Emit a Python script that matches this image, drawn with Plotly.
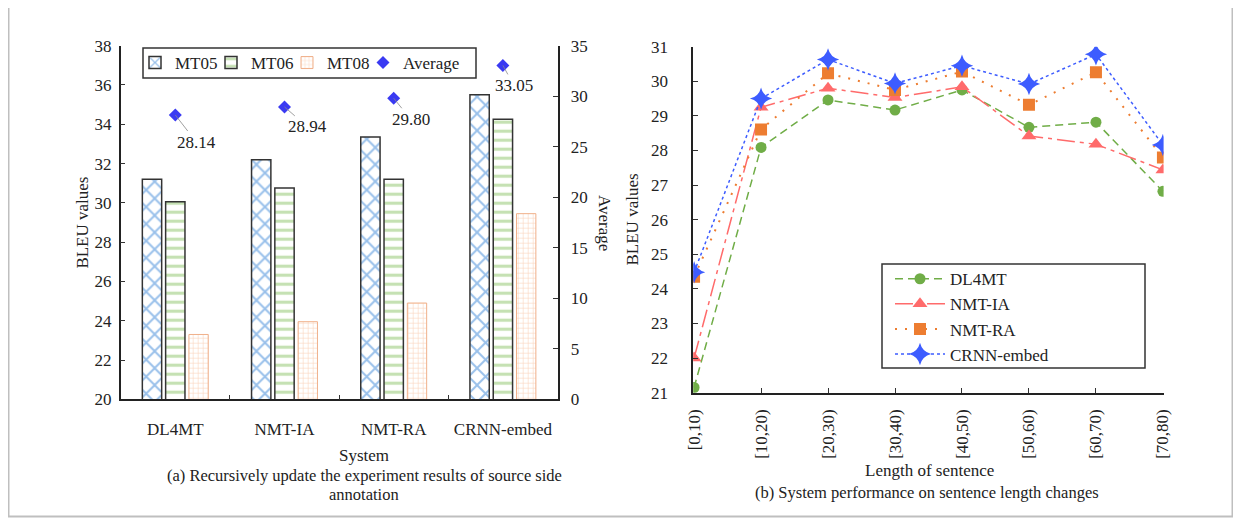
import plotly.graph_objects as go

W, H = 1241, 523
# the page body adds an 8px margin around the figure; positions below are
# given in screen pixels and shifted back by that margin
OX, OY = 8, 8
FONT = "Liberation Serif, Times New Roman, serif"
TXT = "#222222"

# ---------------- data ----------------
systems = ["DL4MT", "NMT-IA", "NMT-RA", "CRNN-embed"]
mt05 = [31.2, 32.2, 33.35, 35.5]
mt06 = [30.05, 30.75, 31.2, 34.25]
mt08 = [23.3, 23.95, 24.9, 29.45]
average = [28.14, 28.94, 29.80, 33.05]

lengths = ["[0,10)", "[10,20)", "[20,30)", "[30,40)", "[40,50)", "[50,60)", "[60,70)", "[70,80)"]
dl4mt = [21.15, 28.09, 29.46, 29.17, 29.75, 28.67, 28.82, 26.82]
nmt_ia = [22.0, 29.25, 29.8, 29.53, 29.84, 28.42, 28.18, 27.44]
nmt_ra = [24.35, 28.61, 30.23, 29.75, 30.28, 29.32, 30.26, 27.8]
crnn = [24.48, 29.5, 30.63, 29.94, 30.45, 29.92, 30.78, 28.16]

# label offsets (px) for the average labels
avg_dx = [21, 23, 17, 11]
avg_dy = [27, 20, 21, 20]


def px(x):
    return (x - OX) / W


def py(y):
    return 1 - (y - OY) / H


fig = go.Figure()

# ---------------- left chart ----------------
fig.add_trace(go.Bar(
    name="MT05", x=systems, y=mt05, xaxis="x", yaxis="y", showlegend=True,
    marker=dict(color="white", line=dict(color="#333333", width=1.5),
                pattern=dict(shape="x", fgcolor="#3382d6", bgcolor="white", size=12, solidity=0.3)),
    legend="legend"))
fig.add_trace(go.Bar(
    name="MT06", x=systems, y=mt06, xaxis="x", yaxis="y", showlegend=True,
    marker=dict(color="white", line=dict(color="#333333", width=1.5),
                pattern=dict(shape="-", fgcolor="#8cc468", bgcolor="white", size=9, solidity=0.35)),
    legend="legend3"))
fig.add_trace(go.Bar(
    name="MT08", x=systems, y=mt08, xaxis="x", yaxis="y", showlegend=True,
    marker=dict(color="white", line=dict(color="#f0b08a", width=1),
                pattern=dict(shape="+", fgcolor="#f4a878", bgcolor="white", size=5, solidity=0.22)),
    legend="legend4"))
fig.add_trace(go.Scatter(
    name="Average", x=systems, y=average, xaxis="x", yaxis="y2", mode="markers", showlegend=True,
    marker=dict(symbol="diamond", size=10, color="#3a3af2"),
    legend="legend5"))

# ---------------- right chart ----------------
fig.add_trace(go.Scatter(
    name="DL4MT", x=lengths, y=dl4mt, xaxis="x3", yaxis="y3", mode="lines+markers", showlegend=True,
    line=dict(color="#70ad47", width=1.5, dash="8px,5px"),
    marker=dict(symbol="circle", size=11, color="#70ad47"),
    legend="legend2"))
fig.add_trace(go.Scatter(
    name="NMT-IA", x=lengths, y=nmt_ia, xaxis="x3", yaxis="y3", mode="lines+markers", showlegend=True,
    line=dict(color="#ff6b6b", width=1.5, dash="18px,5px,4px,5px"),
    marker=dict(symbol="triangle-up", size=13, color="#ff6b6b"),
    legend="legend2"))
fig.add_trace(go.Scatter(
    name="NMT-RA", x=lengths, y=nmt_ra, xaxis="x3", yaxis="y3", mode="lines+markers", showlegend=True,
    line=dict(color="#ed7d31", width=2, dash="2px,8px"),
    marker=dict(symbol="square", size=12, color="#ed7d31"),
    legend="legend2"))
fig.add_trace(go.Scatter(
    name="CRNN-embed", x=lengths, y=crnn, xaxis="x3", yaxis="y3", mode="lines+markers", showlegend=True,
    line=dict(color="#3d5cff", width=1.5, dash="dot"),
    marker=dict(symbol="star-diamond", size=16, color="#3d5cff"),
    legend="legend2"))

tickfont = dict(family=FONT, size=17, color=TXT)

annotations = []
for s, v, dx, dy in zip(systems, average, avg_dx, avg_dy):
    annotations.append(dict(
        x=s, y=v, xref="x", yref="y2", text=f"{v:.2f}", showarrow=True,
        arrowhead=0, arrowwidth=0.8, arrowcolor="#888888", ax=dx, ay=dy,
        font=dict(family=FONT, size=17, color=TXT)))


def label(text, x, y, angle=0, size=17):
    annotations.append(dict(
        text=text, x=px(x), y=py(y), xref="paper", yref="paper", showarrow=False,
        xanchor="center", yanchor="middle", textangle=angle,
        font=dict(family=FONT, size=size, color=TXT)))


label("BLEU values", 81.6, 223, -90)
label("Average", 605, 223, 90)
label("System", 363.6, 455)
label("(a) Recursively update the experiment results of source side", 364, 475, size=16.5)
label("annotation", 364, 495, size=16.5)
label("BLEU values", 632.5, 220, -90)
label("Length of sentence", 929, 470)
label("(b) System performance on sentence length changes", 927, 492, size=16.5)

shapes = [
    dict(type="rect", xref="paper", yref="paper", x0=px(8.5), x1=px(1232.5), y0=py(516.5), y1=py(6.5),
         line=dict(color="#bfbfbf", width=2), layer="below"),
    dict(type="rect", xref="paper", yref="paper", x0=px(143), x1=px(476), y0=py(78), y1=py(48),
         line=dict(color="#333333", width=1.5)),
    dict(type="rect", xref="paper", yref="paper", x0=px(882), x1=px(1145), y0=py(368), y1=py(264),
         line=dict(color="#333333", width=1.5)),
]

legfont = dict(family=FONT, size=17, color=TXT)


def hleg(x):
    return dict(orientation="h", x=px(x), y=py(63), xanchor="left", yanchor="middle",
                bgcolor="rgba(0,0,0,0)", borderwidth=0, font=legfont, itemwidth=30, visible=True)


fig.update_layout(
    width=W, height=H, autosize=False, showlegend=True,
    margin=dict(l=0, r=0, t=0, b=0, autoexpand=False),
    paper_bgcolor="white", plot_bgcolor="white",
    font=dict(family=FONT, size=17, color=TXT),
    barmode="group", bargap=0.36, bargroupgap=0.17,
    xaxis=dict(domain=[px(120.7), px(557.5)], anchor="y", type="category",
               showline=True, linecolor="#222", linewidth=1.5, ticks="inside", tickson="boundaries",
               ticklen=5, tickcolor="#333", tickfont=tickfont, ticklabelstandoff=14, tickangle=0,
               showgrid=False, zeroline=False),
    yaxis=dict(domain=[py(399.3), py(45.7)], anchor="x", range=[20, 38], dtick=2,
               showline=True, linecolor="#222", linewidth=1.5, ticks="inside", ticklen=5,
               tickcolor="#333", tickfont=tickfont, ticklabelstandoff=4,
               showgrid=False, zeroline=False),
    yaxis2=dict(overlaying="y", anchor="x", side="right", range=[0, 35], dtick=5,
                showline=True, linecolor="#222", linewidth=1.5, ticks="inside", ticklen=5,
                tickcolor="#333", tickfont=tickfont, ticklabelstandoff=8,
                showgrid=False, zeroline=False),
    xaxis3=dict(domain=[px(693.2), px(1163.6)], anchor="y3", type="category", range=[-0.013, 7.01],
                showline=True, linecolor="#222", linewidth=1.5, ticks="inside", ticklen=5,
                tickcolor="#333", tickfont=tickfont, tickangle=-90, ticklabelstandoff=8,
                showgrid=False, zeroline=False),
    yaxis3=dict(domain=[py(392.7), py(46.7)], anchor="x3", range=[21, 31], dtick=1,
                showline=True, linecolor="#222", linewidth=1.5, ticks="inside", ticklen=5,
                tickcolor="#333", tickfont=tickfont, ticklabelstandoff=20,
                showgrid=False, zeroline=False),
    legend=hleg(135),
    legend3=hleg(211),
    legend4=hleg(287),
    legend5=hleg(363),
    legend2=dict(orientation="v", x=px(890), y=py(316.7), xanchor="left", yanchor="middle",
                 bgcolor="rgba(0,0,0,0)", borderwidth=0, font=legfont,
                 itemwidth=50, traceorder="normal"),
    annotations=annotations,
    shapes=shapes,
)

fig.write_html("out.html")
